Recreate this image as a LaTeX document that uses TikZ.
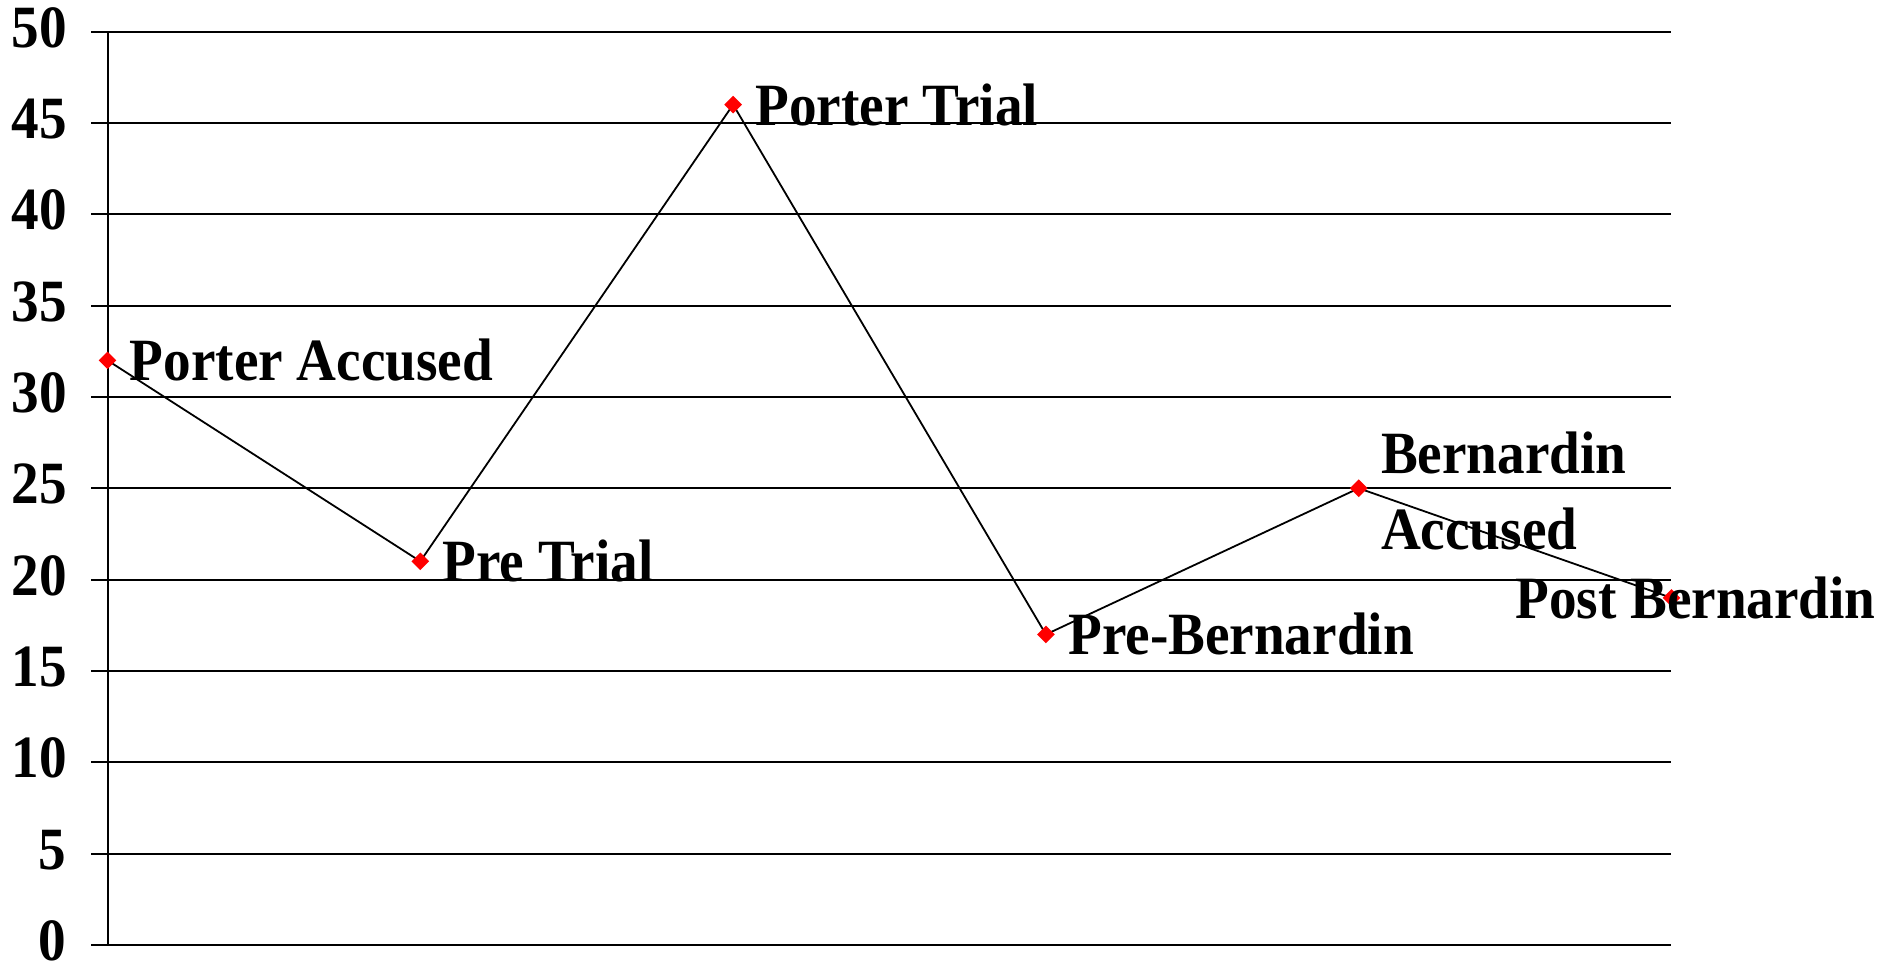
\documentclass[tikz,border=0pt]{standalone}
\usepackage{fontspec}
\setmainfont{Liberation Serif}[FakeStretch=0.92]
\usetikzlibrary{shapes.geometric}
\tikzset{
  gridline/.style = {line width=1pt},
  dataline/.style = {line width=0.9pt},
  marker/.style = {diamond, fill=red, inner sep=0pt, minimum size=9pt},
  lab/.style = {font=\fontsize{30}{38}\selectfont\bfseries, inner sep=0pt},
  rlab/.style = {lab, anchor=west, xshift=11pt},
  ticklab/.style = {font=\fontsize{30}{36}\selectfont\bfseries, inner sep=0pt, anchor=east}
}

\begin{document}
\begin{tikzpicture}[x=0.5pt, y=-0.5pt]
    \useasboundingbox (0,0) rectangle (1883,965);
    \foreach \v in {0,5,...,50} {
        \draw[gridline] (91,{945-18.27*\v}) -- (1671,{945-18.27*\v});
        \node[ticklab] (tick\v) at (67,{941-18.27*\v}) {\v};
    }
    \draw[gridline] (107.5,31.5) -- (107.5,945);
    \foreach \n/\i/\v in {pa/0/32, pr/1/21, pt/2/46, pb/3/17, ba/4/25, po/5/19}
        \coordinate (\n) at ({107.5+312.8*\i},{945-18.27*\v});
    \draw[dataline] (pa) -- (pr) -- (pt) -- (pb) -- (ba) -- (po);
    \foreach \n in {pa, pr, pt, pb, ba, po}
        \node[marker] (\n m) at (\n) {};
    \node[rlab] (pa lab) at (pa) {Porter Accused};
    \node[rlab] (pr lab) at (pr) {Pre Trial};
    \node[rlab] (pt lab) at (pt) {Porter Trial};
    \node[rlab] (pb lab) at (pb) {Pre-Bernardin};
    \node[rlab, align=left, yshift=-1.5pt] (ba lab) at (ba) {Bernardin\\Accused};
    \node[lab, anchor=east] (po lab) at (1876,598) {Post Bernardin};
\end{tikzpicture}
\end{document}
